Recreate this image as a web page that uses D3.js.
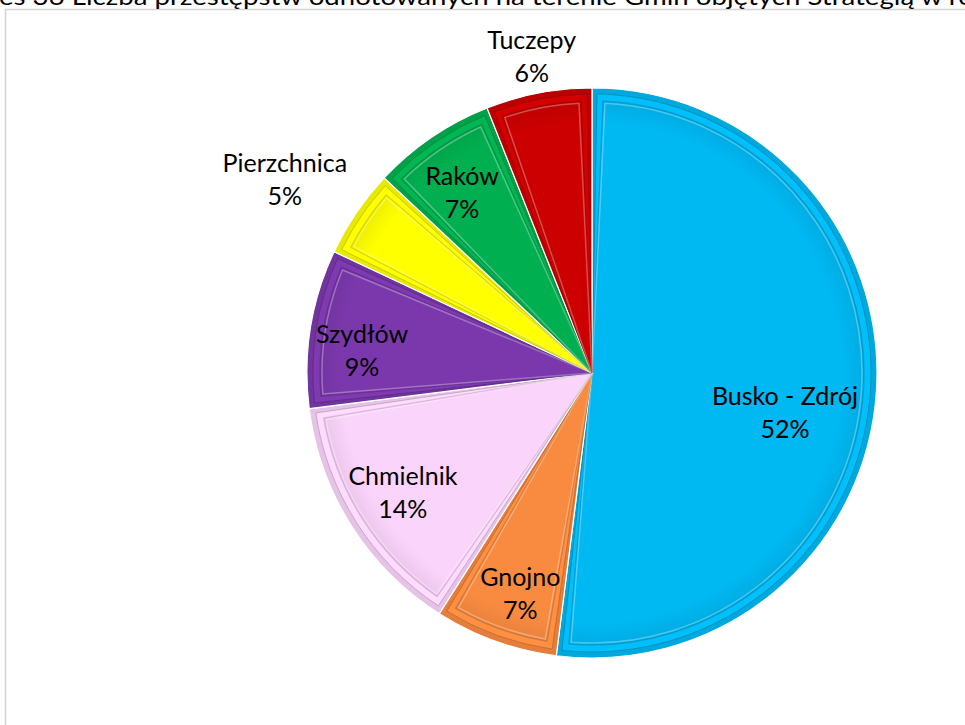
<!DOCTYPE html>
<html>
<head>
<meta charset="utf-8">
<script src="https://cdn.jsdelivr.net/npm/d3@7"></script>
<style>
  html, body { margin: 0; padding: 0; background: #fff; overflow: hidden; }
  svg { display: block; }
</style>
</head>
<body>
<svg id="chart" width="965" height="725"></svg>
<script>
// ---- data ----
const titleText = "es 36 Liczba przestępstw odnotowanych na terenie Gmin objętych Strategią w ro";
const categories = ["Busko - Zdrój", "Gnojno", "Chmielnik", "Szydłów", "Pierzchnica", "Raków", "Tuczepy"];
const values = [52, 7, 14, 9, 5, 7, 6];
const percentLabels = ["52%", "7%", "14%", "9%", "5%", "7%", "6%"];
const colors = ["#00B8F2", "#F98B40", "#FBD4FB", "#7B38AC", "#FFFF00", "#00B050", "#CC0000"];

// ---- layout (not data) ----
const W = 965, H = 725;
const cx = 592, cy = 373, R = 285;
const labelLayout = {
  "Busko - Zdrój": { r: 197, shift: 8 },
  "Pierzchnica": { r: 363, shift: -2 },
  "Tuczepy": { r: 322, shift: 0 },
  "Szydłów": { r: 231, shift: -3.5 },
  "Gnojno": { r: 232, shift: -1.8 },
  "Raków": { r: 222, shift: -1.6 }
};
const defaultLabelR = 224;
const fontFamily = "Lato, 'Noto Sans', sans-serif";

const svg = d3.select("#chart");

// outer frame
svg.append("rect")
  .attr("x", 5.5).attr("y", 9.5)
  .attr("width", W + 50).attr("height", H + 50)
  .attr("fill", "none").attr("stroke", "#d4d4d4").attr("stroke-width", 1.5);

// title (clipped at top like the reference)
svg.append("text")
  .attr("x", -1).attr("y", 5)
  .attr("font-family", fontFamily)
  .attr("font-size", 24)
  .attr("fill", "#000")
  .attr("textLength", 975)
  .attr("lengthAdjust", "spacingAndGlyphs")
  .text(titleText);

const data = categories.map((c, i) => ({ name: c, value: values[i], pct: percentLabels[i], color: colors[i] }));

const pie = d3.pie().sort(null).value(d => d.value).startAngle(0).endAngle(2 * Math.PI);
const arcs = pie(data);

const arcOuter = d3.arc().innerRadius(0).outerRadius(R);
const arcInset = d3.arc().innerRadius(0).outerRadius(R - 13).padRadius(R).padAngle(22 / R);
const arcInset2 = d3.arc().innerRadius(0).outerRadius(R - 6).padRadius(R).padAngle(10 / R);

const g = svg.append("g").attr("transform", `translate(${cx},${cy})`);

const defs = svg.append("defs");
data.forEach((d, i) => {
  const grad = defs.append("radialGradient")
    .attr("id", "rg" + i)
    .attr("gradientUnits", "userSpaceOnUse")
    .attr("cx", 0).attr("cy", 0).attr("r", R);
  const c = d3.color(d.color);
  grad.append("stop").attr("offset", "0%").attr("stop-color", c.formatHex());
  grad.append("stop").attr("offset", "88%").attr("stop-color", c.formatHex());
  grad.append("stop").attr("offset", "100%").attr("stop-color", c.darker(0.3).formatHex());
});

const slices = g.selectAll("g.slice").data(arcs).join("g").attr("class", "slice");

// base slice (outer rim)
slices.append("path")
  .attr("d", arcOuter)
  .attr("fill", d => d3.color(d.data.color).darker(0.25))
  .attr("stroke", "#ffffff")
  .attr("stroke-width", 1.2);

// mid band
slices.append("path")
  .attr("d", arcInset2)
  .attr("fill", d => d3.color(d.data.color).brighter(0.1))
  .attr("stroke", d => d3.color(d.data.color).darker(1.1))
  .attr("stroke-opacity", 0.6)
  .attr("stroke-width", 1);

// inner face
slices.append("path")
  .attr("d", arcInset)
  .attr("fill", (d, i) => `url(#rg${i})`)
  .attr("stroke", d => d3.color(d.data.color).darker(0.8))
  .attr("stroke-opacity", 0.55)
  .attr("stroke-width", 1.4);

// inner face highlight line
slices.append("path")
  .attr("d", d3.arc().innerRadius(0).outerRadius(R - 15).padRadius(R).padAngle(26 / R))
  .attr("fill", "none")
  .attr("stroke", "#ffffff")
  .attr("stroke-opacity", 0.3)
  .attr("stroke-width", 1.5);

// labels
const labels = g.selectAll("g.label").data(arcs).join("g").attr("class", "label")
  .attr("transform", d => {
    const lay = labelLayout[d.data.name] || {};
    const r = lay.r || defaultLabelR;
    const a = (d.startAngle + d.endAngle) / 2 + ((lay.shift || 0) * Math.PI / 180);
    return `translate(${r * Math.sin(a)},${-r * Math.cos(a)})`;
  });

labels.append("text")
  .attr("text-anchor", "middle")
  .attr("y", -8)
  .attr("font-family", fontFamily)
  .attr("font-size", 25)
  .attr("fill", "#000")
  .text(d => d.data.name);

labels.append("text")
  .attr("text-anchor", "middle")
  .attr("y", 25)
  .attr("font-family", fontFamily)
  .attr("font-size", 25)
  .attr("fill", "#000")
  .text(d => d.data.pct);
</script>
</body>
</html>
